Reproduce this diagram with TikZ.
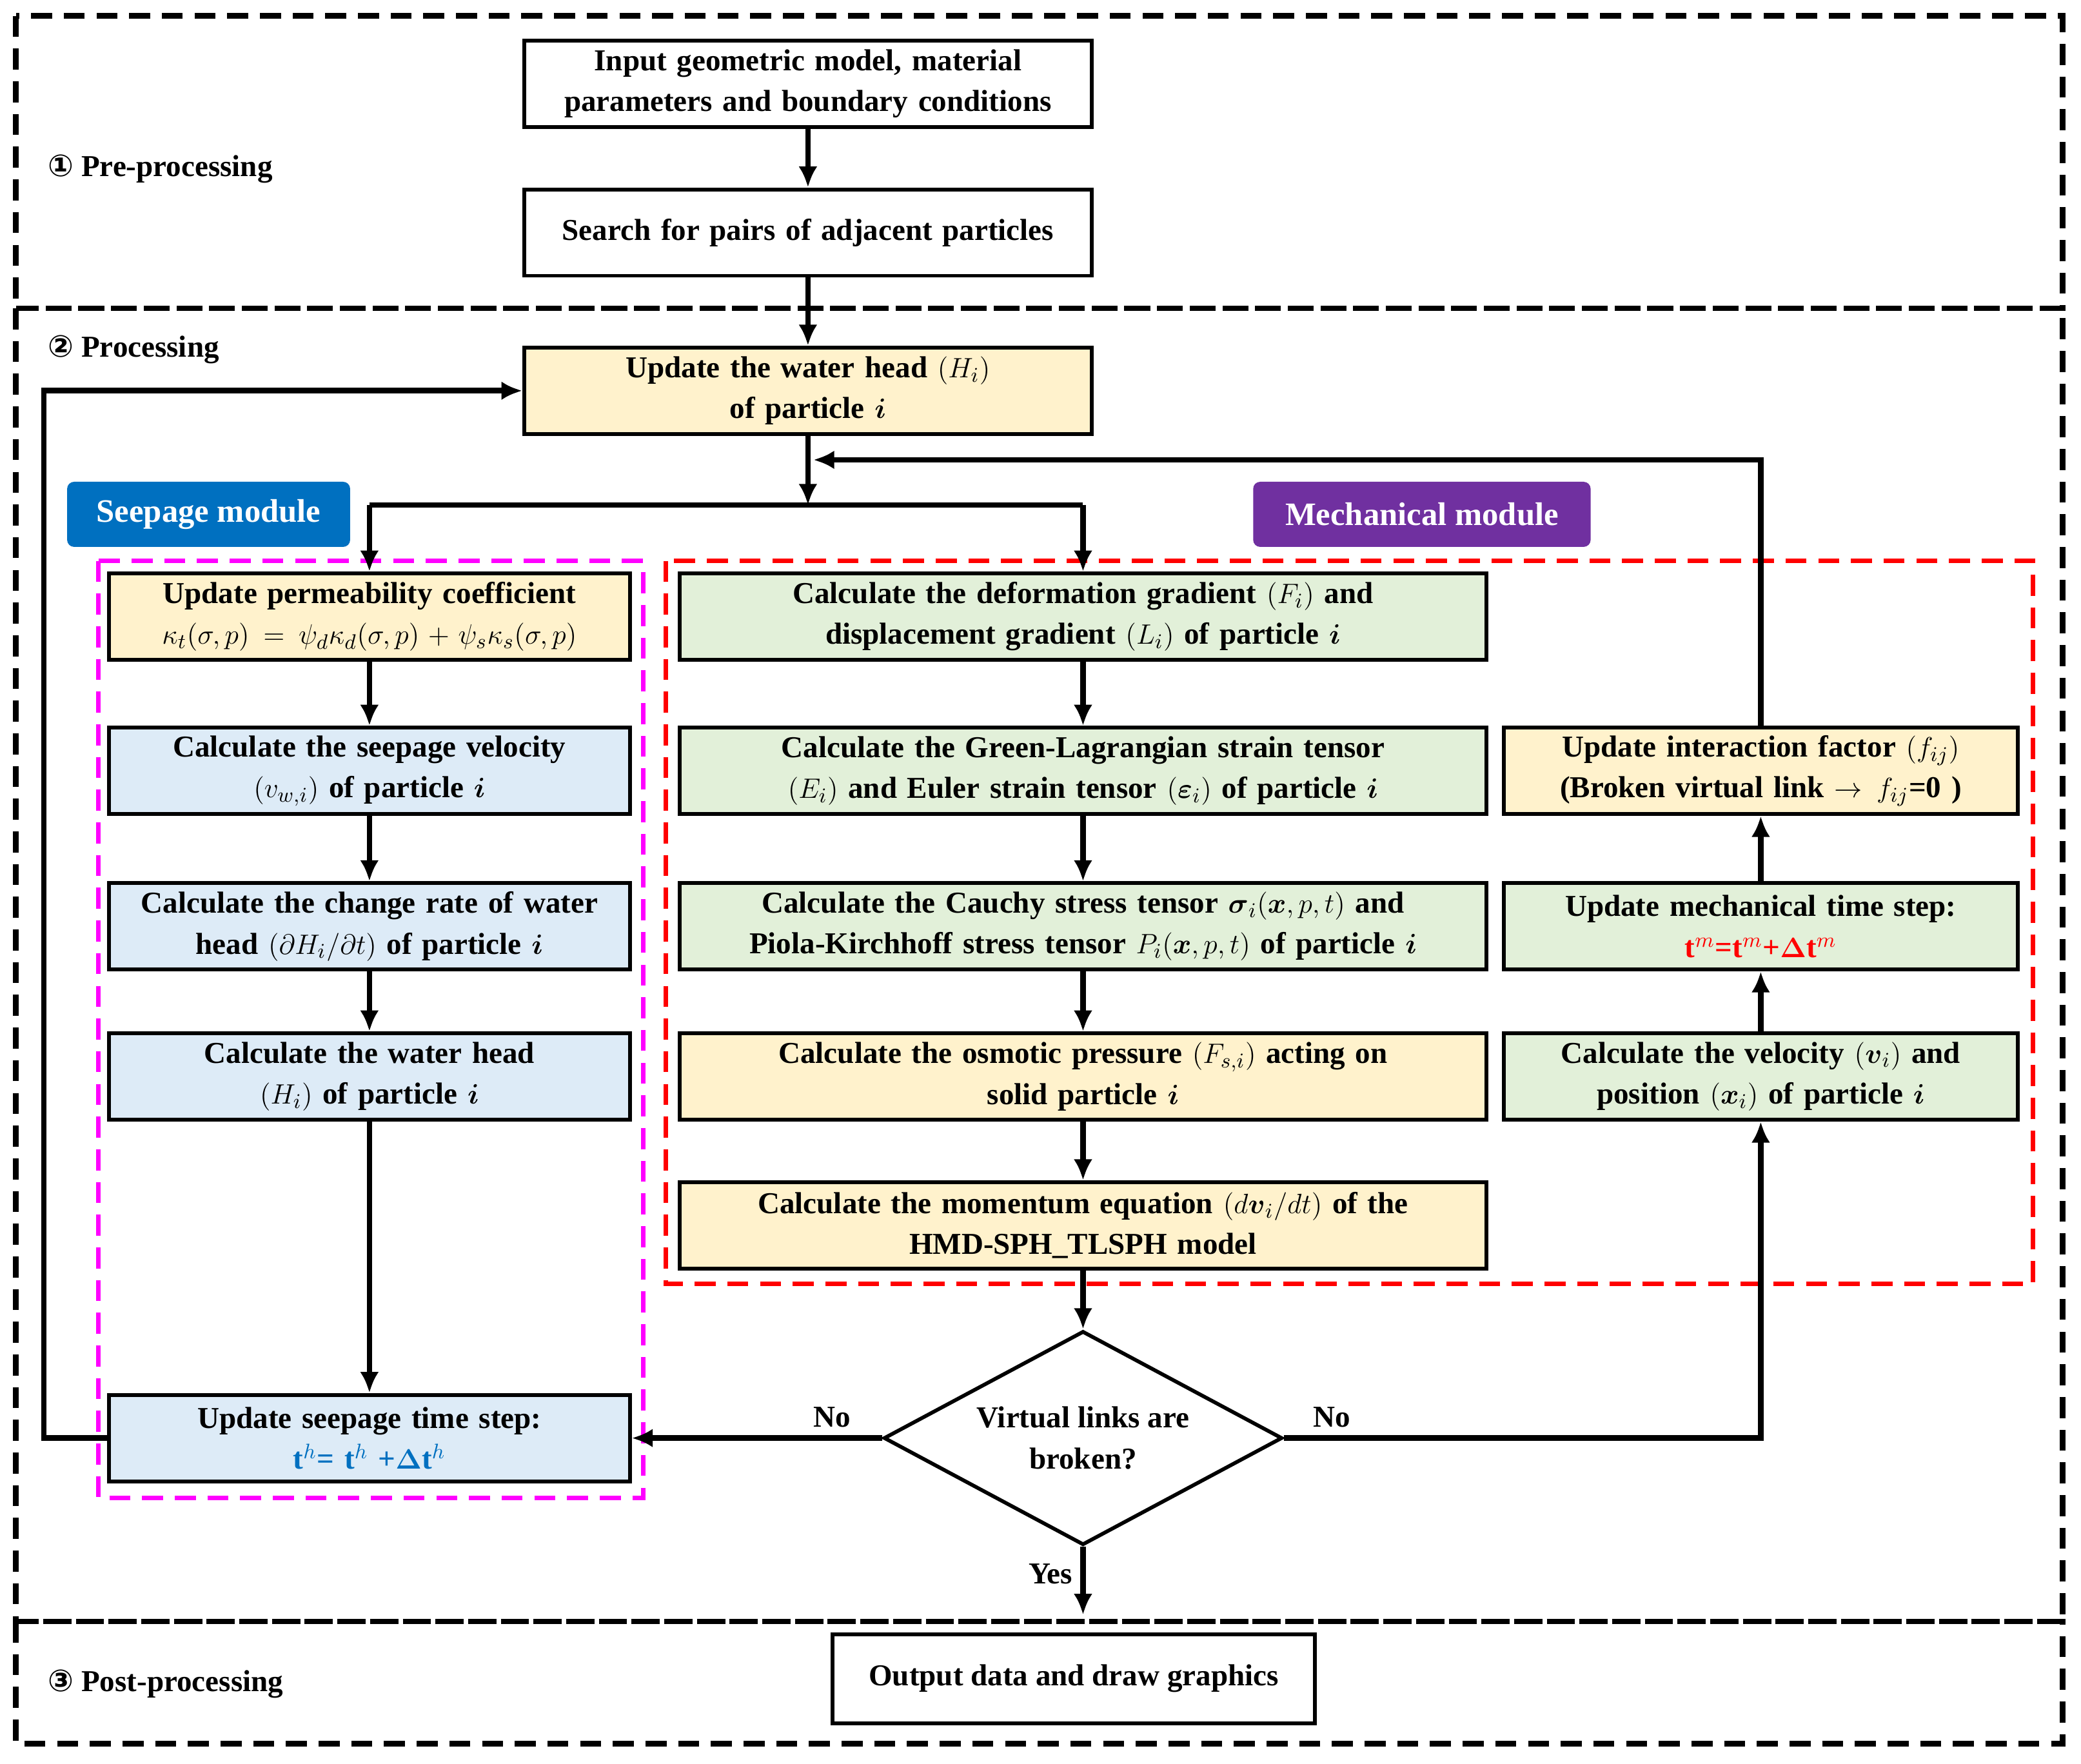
\documentclass[tikz,border=0pt]{standalone}
\usepackage{amsmath}
\usepackage{fontspec}
\setmainfont{Liberation Serif}
\newfontfamily\circfont{DejaVu Sans}
\usetikzlibrary{shapes.geometric,arrows.meta}
\definecolor{boxyellow}{HTML}{FFF2CC}
\definecolor{boxblue}{HTML}{DDEBF7}
\definecolor{boxgreen}{HTML}{E2F0D9}
\definecolor{seepblue}{HTML}{0070C0}
\definecolor{mechpurple}{HTML}{7030A0}
\definecolor{seepframe}{HTML}{FF00FF}
\tikzset{
  box/.style={draw, line width=1.6pt, align=center, inner sep=2pt,
    font=\fontsize{13}{17.5}\selectfont\bfseries, minimum height=1.3cm},
  topbox/.style={box, minimum width=8.54cm, text width=8.4cm},
  seepbox/.style={box, minimum width=7.76cm, text width=7.7cm},
  midbox/.style={box, minimum width=12.12cm, text width=12cm},
  rightbox/.style={box, minimum width=7.68cm, text width=7.6cm},
  frame/.style={line width=2.4pt, dash pattern=on 9pt off 5pt},
  flow/.style={line width=2.4pt, -{Latex[length=9pt,width=8pt]}},
  line/.style={line width=2.4pt},
  tag/.style={rounded corners=3pt, text=white, minimum height=0.98cm,
    font=\fontsize{14}{17}\selectfont\bfseries},
  sec/.style={anchor=west, font=\fontsize{13}{17}\selectfont\bfseries},
  lab/.style={font=\fontsize{13}{17}\selectfont\bfseries}
}
\begin{document}
\begin{tikzpicture}[x=0.02cm,y=-0.02cm]
	\useasboundingbox (0,0) rectangle (1566,1327);
	
	% frames
	\draw[frame] (12,12) rectangle (1552,232);
	\draw[frame] (12,232) rectangle (1552,1220);
	\draw[frame] (12,1220) rectangle (1552,1312);
	\draw[frame, seepframe, line width=2pt] (74,422) rectangle (484,1127);
	\draw[frame, red, line width=2pt] (501,422) rectangle (1530,966);
	
	\node[sec] (pre) at (30,127) {{\circfont ①} Pre-processing};
	\node[sec] (proc) at (30,263) {{\circfont ②} Processing};
	\node[sec] (post) at (30,1267) {{\circfont ③} Post-processing};
	
	\node[tag, fill=seepblue, minimum width=4.26cm] (seeptag) at (157,387) {Seepage module};
	\node[tag, fill=mechpurple, minimum width=5.08cm] (mechtag) at (1070,387) {Mechanical module};
	
	% pre-processing
	\node[topbox] (input) at (608,63) {Input geometric model, material\\ parameters and boundary conditions};
	\node[topbox] (search) at (608,175) {Search for pairs of adjacent particles};
	\node[topbox, fill=boxyellow] (head) at (608,294) {Update the water head $(H_i)$\\ of particle $\boldsymbol{i}$};
	
	% seepage module
	\node[seepbox, fill=boxyellow] (perm) at (278,464) {Update permeability coefficient\\ $\kappa_t(\sigma,p)=\psi_d\kappa_d(\sigma,p)+\psi_s\kappa_s(\sigma,p)$};
	\node[seepbox, fill=boxblue] (vel) at (278,580) {Calculate the seepage velocity\\ $(v_{w,i})$ of particle $\boldsymbol{i}$};
	\node[seepbox, fill=boxblue] (rate) at (278,697) {Calculate the change rate of water\\ head $(\partial H_i/\partial t)$ of particle $\boldsymbol{i}$};
	\node[seepbox, fill=boxblue] (wh) at (278,810) {Calculate the water head\\ $(H_i)$ of particle $\boldsymbol{i}$};
	\node[seepbox, fill=boxblue] (tsh) at (278,1082) {Update seepage time step:\\ \textcolor{seepblue}{t$^h$= t$^h$ +$\boldsymbol{\Delta}$t$^h$}};
	
	% mechanical module
	\node[midbox, fill=boxgreen] (defo) at (815,464) {Calculate the deformation gradient $(F_i)$ and\\ displacement gradient $(L_i)$ of particle $\boldsymbol{i}$};
	\node[midbox, fill=boxgreen] (green) at (815,580) {Calculate the Green-Lagrangian strain tensor\\ $(E_i)$ and Euler strain tensor $(\boldsymbol{\varepsilon}_i)$ of particle $\boldsymbol{i}$};
	\node[midbox, fill=boxgreen] (cauchy) at (815,697) {Calculate the Cauchy stress tensor $\boldsymbol{\sigma}_i(\boldsymbol{x},p,t)$ and\\ Piola-Kirchhoff stress tensor $P_i(\boldsymbol{x},p,t)$ of particle $\boldsymbol{i}$};
	\node[midbox, fill=boxyellow] (osmo) at (815,810) {Calculate the osmotic pressure $(F_{s,i})$ acting on\\ solid particle $\boldsymbol{i}$};
	\node[midbox, fill=boxyellow] (mom) at (815,922) {Calculate the momentum equation $(d\boldsymbol{v}_i/dt)$ of the\\ HMD-SPH\_TLSPH model};
	
	\node[rightbox, fill=boxyellow] (inter) at (1325,580) {Update interaction factor $(f_{ij})$\\ (Broken virtual link $\rightarrow f_{ij}$=0 )};
	\node[rightbox, fill=boxgreen] (tsm) at (1325,697) {Update mechanical time step:\\ \textcolor{red}{t$^m$=t$^m$+$\boldsymbol{\Delta}$t$^m$}};
	\node[rightbox, fill=boxgreen] (pos) at (1325,810) {Calculate the velocity $(\boldsymbol{v}_i)$ and\\ position $(\boldsymbol{x}_i)$ of particle $\boldsymbol{i}$};
	
	\node[diamond, draw, line width=1.6pt, aspect=1.86, inner sep=0pt, minimum width=6cm, minimum height=3.22cm, align=center, font=\fontsize{13}{17.5}\selectfont\bfseries] (check) at (815,1082) {Virtual links are\\ broken?};
	
	\node[box, minimum width=7.26cm, minimum height=1.34cm] (out) at (808,1263) {Output data and draw graphics};
	
	% connectors
	\coordinate (split) at (608,380);
	\coordinate (back) at (612,346);
	\coordinate (yes) at (815,1215);
	\draw[flow] (input) -- (search);
	\draw[flow] (search) -- (head);
	\draw[flow] (head) -- (split);
	\draw[line] (278,380) -- (815,380);
	\draw[flow] (278,380) -- (perm);
	\draw[flow] (815,380) -- (defo);
	\draw[flow] (perm) -- (vel);
	\draw[flow] (vel) -- (rate);
	\draw[flow] (rate) -- (wh);
	\draw[flow] (wh) -- (tsh);
	\draw[flow] (tsh.west) -- (33,1082) -- (33,294) -- (head.west);
	\draw[flow] (defo) -- (green);
	\draw[flow] (green) -- (cauchy);
	\draw[flow] (cauchy) -- (osmo);
	\draw[flow] (osmo) -- (mom);
	\draw[flow] (mom) -- (check);
	\draw[flow] (check.west) -- node[above, pos=0.2, lab] {No} (tsh.east);
	\draw[flow] (check.east) -- node[above, pos=0.1, lab] {No} (1325,1082) -- (pos.south);
	\draw[flow] (pos) -- (tsm);
	\draw[flow] (tsm) -- (inter);
	\draw[flow] (inter.north) -- (1325,346) -- (back);
	\draw[flow] (check.south) -- node[left, pos=0.4, lab] {Yes} (yes);
\end{tikzpicture}
\end{document}
